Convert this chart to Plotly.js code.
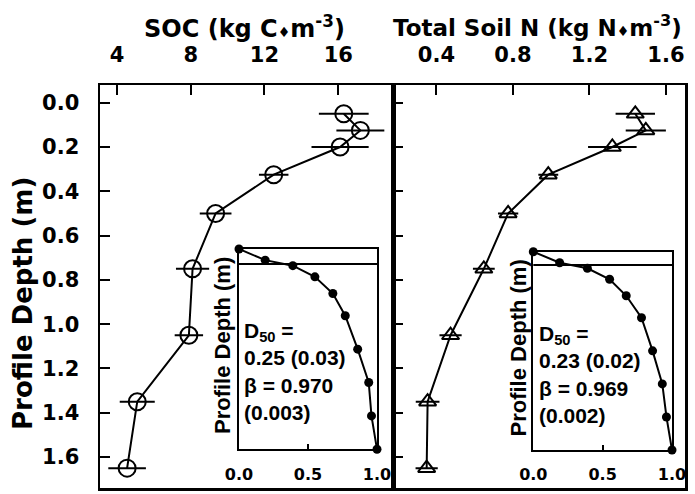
<!DOCTYPE html>
<html>
<head>
<meta charset="utf-8">
<script src="https://cdn.plot.ly/plotly-3.0.1.min.js"></script>
<style>html,body{margin:0;padding:0;background:#fff;}#chart{width:695px;height:494px;}</style>
</head>
<body>
<div id="chart"></div>
<script>
// ---- data ----
const layerDepth = [0.05, 0.125, 0.2, 0.325, 0.5, 0.75, 1.05, 1.35, 1.65];
const socValues = [16.3, 17.2, 16.1, 12.5, 9.35, 8.1, 7.9, 5.1, 4.55];
const socErrors = [1.35, 1.3, 1.55, 0.8, 0.86, 0.9, 0.77, 0.95, 1.02];
const nValues = [1.44, 1.495, 1.32, 0.985, 0.775, 0.648, 0.474, 0.354, 0.349];
const nErrors = [0.103, 0.105, 0.127, 0.052, 0.053, 0.057, 0.058, 0.062, 0.058];
const insetDepth = [0, 0.1, 0.15, 0.25, 0.4, 0.6, 0.9, 1.2, 1.5, 1.8];
const socCumFrac = [0, 0.19, 0.39, 0.55, 0.68, 0.77, 0.86, 0.94, 0.96, 1.0];
const nCumFrac = [0, 0.19, 0.39, 0.55, 0.67, 0.78, 0.86, 0.93, 0.96, 1.0];
const socTicks = [4, 8, 12, 16];
const nTicks = [0.4, 0.8, 1.2, 1.6];
const nTickText = ['0.4', '0.8', '1.2', '1.6'];
const depthTicks = [0, 0.2, 0.4, 0.6, 0.8, 1.0, 1.2, 1.4, 1.6];
const depthTickText = ['0.0', '0.2', '0.4', '0.6', '0.8', '1.0', '1.2', '1.4', '1.6'];
const insetTicks = [0, 0.5, 1];
const insetTickText = ['0.0', '0.5', '1.0'];
const socInsetText = 'D<sub>50</sub> =<br>0.25 (0.03)<br>β = 0.970<br>(0.003)';
const nInsetText = 'D<sub>50</sub> =<br>0.23 (0.02)<br>β = 0.969<br>(0.002)';

// ---- styling ----
const W = 695, H = 494;
const px = v => v / W;
const py = v => 1 - v / H;
const bold = {family: 'DejaVu Sans', weight: 'bold', color: '#000'};
const arialBold = {family: 'Liberation Sans, Arial', weight: 'bold', color: '#000'};
const tickFont = Object.assign({}, bold, {size: 21});
const insetTickFont = Object.assign({}, bold, {size: 16});
const LW = 2.5;

const traces = [
  {x: socValues, y: layerDepth, xaxis: 'x', yaxis: 'y', type: 'scatter', mode: 'lines+markers',
   line: {color: '#000', width: 2},
   marker: {symbol: 'circle-open', size: 17, color: '#000', line: {width: 2, color: '#000'}},
   error_x: {type: 'data', array: socErrors, visible: true, color: '#000', thickness: 2, width: 0},
   cliponaxis: false, showlegend: false},
  {x: nValues, y: layerDepth, xaxis: 'x2', yaxis: 'y2', type: 'scatter', mode: 'lines+markers',
   line: {color: '#000', width: 2},
   marker: {symbol: 'triangle-up-open', size: 15, color: '#000', line: {width: 2, color: '#000'}},
   error_x: {type: 'data', array: nErrors, visible: true, color: '#000', thickness: 2, width: 0},
   cliponaxis: false, showlegend: false},
  {x: socCumFrac, y: insetDepth, xaxis: 'x3', yaxis: 'y3', type: 'scatter', mode: 'lines+markers',
   line: {color: '#000', width: 2}, marker: {symbol: 'circle', size: 9, color: '#000'},
   cliponaxis: false, showlegend: false},
  {x: nCumFrac, y: insetDepth, xaxis: 'x4', yaxis: 'y4', type: 'scatter', mode: 'lines+markers',
   line: {color: '#000', width: 2}, marker: {symbol: 'circle', size: 9, color: '#000'},
   cliponaxis: false, showlegend: false}
];

const mainYDomain = [py(488.3), py(85)];
const frame = {showline: true, linecolor: '#000', linewidth: LW, mirror: true, showgrid: false, zeroline: false};

const layout = {
  width: W, height: H,
  margin: {l: 0, r: 0, t: 0, b: 0},
  paper_bgcolor: '#fff', plot_bgcolor: '#fff',
  showlegend: false,
  xaxis: Object.assign({}, frame, {domain: [px(100), px(393)], range: [3.08, 18.97], side: 'top', anchor: 'y',
    tickmode: 'array', tickvals: socTicks, ticks: 'inside', ticklen: 10, tickwidth: 2, tickcolor: '#000',
    tickfont: tickFont, ticklabelstandoff: 12}),
  yaxis: Object.assign({}, frame, {domain: mainYDomain, range: [1.741, -0.08], anchor: 'x',
    tickmode: 'array', tickvals: depthTicks, ticktext: depthTickText, ticks: 'inside', ticklen: 10, tickwidth: 2, tickcolor: '#000',
    tickfont: tickFont, ticklabelstandoff: 14}),
  xaxis2: Object.assign({}, frame, {domain: [px(393), px(685)], range: [0.173, 1.70], side: 'top', anchor: 'y2',
    tickmode: 'array', tickvals: nTicks, ticktext: nTickText, ticks: 'inside', ticklen: 10, tickwidth: 2, tickcolor: '#000',
    tickfont: tickFont, ticklabelstandoff: 12}),
  yaxis2: Object.assign({}, frame, {domain: mainYDomain, range: [1.741, -0.08], anchor: 'x2',
    tickmode: 'array', tickvals: depthTicks, ticks: 'inside', ticklen: 10, tickwidth: 2, tickcolor: '#000',
    showticklabels: false}),
  xaxis3: Object.assign({}, frame, {linewidth: 2, domain: [px(239), px(377)], range: [0, 1], anchor: 'y3', side: 'bottom',
    tickmode: 'array', tickvals: insetTicks, ticktext: insetTickText, ticks: 'inside', ticklen: 5, tickwidth: 2, tickcolor: '#000',
    tickfont: insetTickFont, ticklabelstandoff: 9}),
  yaxis3: Object.assign({}, frame, {linewidth: 2, domain: [py(449.3), py(249)], range: [1.8, 0], anchor: 'x3',
    ticks: '', showticklabels: false}),
  xaxis4: Object.assign({}, frame, {linewidth: 2, domain: [px(533.3), px(672)], range: [0, 1], anchor: 'y4', side: 'bottom',
    tickmode: 'array', tickvals: insetTicks, ticktext: insetTickText, ticks: 'inside', ticklen: 5, tickwidth: 2, tickcolor: '#000',
    tickfont: insetTickFont, ticklabelstandoff: 9}),
  yaxis4: Object.assign({}, frame, {linewidth: 2, domain: [py(450), py(251.7)], range: [1.8, 0], anchor: 'x4',
    ticks: '', showticklabels: false}),
  shapes: [
    {type: 'line', xref: 'x3 domain', yref: 'y3', x0: 0, x1: 1, y0: 0.135, y1: 0.135, line: {color: '#000', width: 2}},
    {type: 'line', xref: 'x4 domain', yref: 'y4', x0: 0, x1: 1, y0: 0.12, y1: 0.12, line: {color: '#000', width: 2}}
  ],
  annotations: [
    {text: 'SOC (kg C<span style="font-size:14px">♦</span>m<sup>-3</sup>)', xref: 'paper', yref: 'paper',
     x: px(244), y: py(27), xanchor: 'center', yanchor: 'middle', showarrow: false,
     font: Object.assign({}, bold, {size: 24})},
    {text: 'Total Soil N (kg N<span style="font-size:14px">♦</span>m<sup>-3</sup>)', xref: 'paper', yref: 'paper',
     x: px(537), y: py(26), xanchor: 'center', yanchor: 'middle', showarrow: false,
     font: Object.assign({}, bold, {size: 23})},
    {text: 'Profile Depth (m)', xref: 'paper', yref: 'paper', x: px(23), y: py(304), textangle: -90,
     xanchor: 'center', yanchor: 'middle', showarrow: false, font: Object.assign({}, bold, {size: 26})},
    {text: 'Profile Depth (m)', xref: 'paper', yref: 'paper', x: px(222), y: py(346), textangle: -90,
     xanchor: 'center', yanchor: 'middle', showarrow: false, font: Object.assign({}, arialBold, {size: 22})},
    {text: 'Profile Depth (m)', xref: 'paper', yref: 'paper', x: px(517.5), y: py(348), textangle: -90,
     xanchor: 'center', yanchor: 'middle', showarrow: false, font: Object.assign({}, arialBold, {size: 22})},
    {text: socInsetText, xref: 'x3 domain', yref: 'y3 domain', x: 0.02, y: 0.39, xanchor: 'left', yanchor: 'middle', align: 'left',
     showarrow: false, font: Object.assign({}, arialBold, {size: 21})},
    {text: nInsetText, xref: 'x4 domain', yref: 'y4 domain', x: 0.03, y: 0.38, xanchor: 'left', yanchor: 'middle', align: 'left',
     showarrow: false, font: Object.assign({}, arialBold, {size: 21})}
  ]
};

Plotly.newPlot('chart', traces, layout, {staticPlot: true, displayModeBar: false});
</script>
</body>
</html>
